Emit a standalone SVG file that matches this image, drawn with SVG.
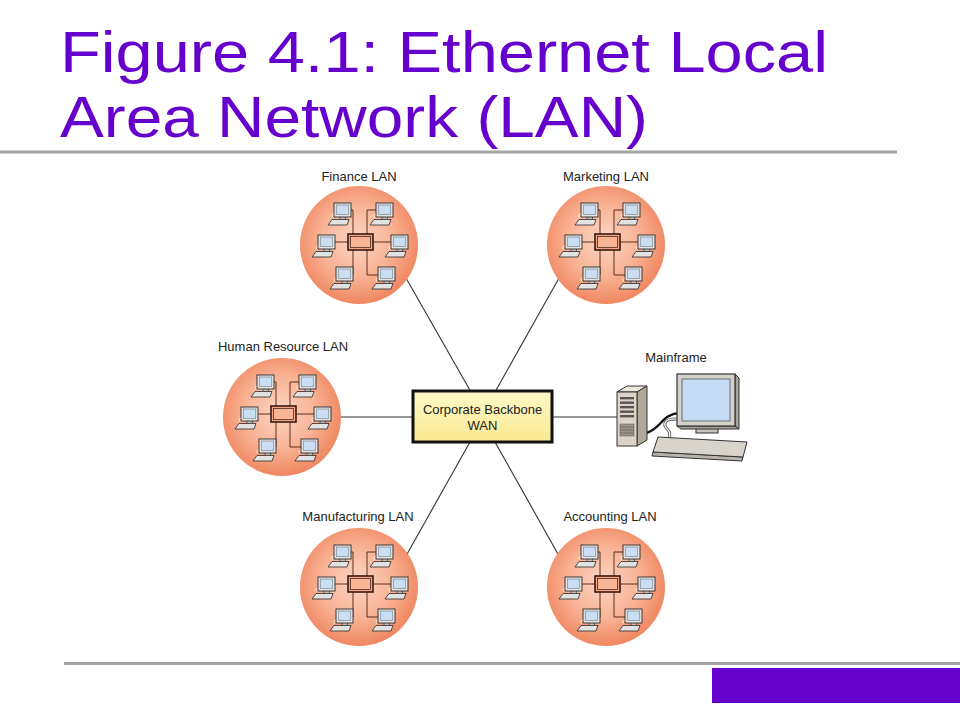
<svg xmlns="http://www.w3.org/2000/svg" xmlns:xlink="http://www.w3.org/1999/xlink" width="960" height="720" viewBox="0 0 960 720">
<style>
.title{font-family:"Liberation Sans",Arial,sans-serif;font-size:57px;fill:#6600CC}
.lbl{font-family:"Liberation Sans",Arial,sans-serif;font-size:13px;fill:#222;text-anchor:middle}
.rule{stroke:#a6a6a6;stroke-width:3}
.conn{stroke:#333;stroke-width:1.1;fill:none}
.wire{stroke:#5a2e1c;stroke-width:1;fill:none}
.edge{stroke:#2a2a2a}
</style>
<defs>
<radialGradient id="lanGrad" cx="48%" cy="46%" r="55%">
<stop offset="0" stop-color="#fcd6c4"/>
<stop offset="0.55" stop-color="#f8b395"/>
<stop offset="1" stop-color="#f0855f"/>
</radialGradient>
<linearGradient id="boxGrad" x1="0" y1="0" x2="0" y2="1">
<stop offset="0" stop-color="#fff8c8"/>
<stop offset="1" stop-color="#f9e990"/>
</linearGradient>
<g id="pc">
<polygon points="-2,16.5 15,16.5 13,22 -6,22" fill="#e2e2e2" class="edge" stroke-width="0.8"/>
<rect x="6" y="13.5" width="5.5" height="3" fill="#bdbdbd" class="edge" stroke-width="0.6"/>
<rect x="0" y="0" width="17" height="14" fill="#e4e4e4" class="edge" stroke-width="0.9"/>
<rect x="2.2" y="2" width="12.6" height="9.5" fill="#c9ddf3" stroke="#666" stroke-width="0.5"/>
<path d="M-0.5,11 q-3,1.5 -0.5,3.5" stroke="#fff" stroke-width="0.8" fill="none"/>
</g>
<g id="lan">
<circle cx="0" cy="0" r="59" fill="url(#lanGrad)"/>
<path class="wire" d="M-25,-3H-11 M14,-3H32 M-6,-11V-35H-8 M8,-11V-35H17 M-6,5V30H-8 M8,5V30H19"/>
<rect x="-11" y="-11" width="25" height="16" fill="#f5a585" stroke="#3a1a10" stroke-width="1.6"/>
<rect x="-8.5" y="-8.5" width="20" height="11" fill="#f7b596" stroke="#3a1a10" stroke-width="0.7"/>
<use xlink:href="#pc" href="#pc" x="-25" y="-42"/>
<use xlink:href="#pc" href="#pc" x="17" y="-42"/>
<use xlink:href="#pc" href="#pc" x="-41" y="-10"/>
<use xlink:href="#pc" href="#pc" x="32" y="-10"/>
<use xlink:href="#pc" href="#pc" x="-23" y="22"/>
<use xlink:href="#pc" href="#pc" x="19" y="22"/>
</g>
</defs>
<rect width="960" height="720" fill="#ffffff"/>
<g id="title">
<text class="title" x="60" y="72" textLength="768" lengthAdjust="spacingAndGlyphs">Figure 4.1: Ethernet Local</text>
<text class="title" x="60" y="137" textLength="588" lengthAdjust="spacingAndGlyphs">Area Network (LAN)</text>
</g>
<g id="decor">
<line class="rule" x1="0" y1="152" x2="897" y2="152"/>
<line class="rule" x1="64" y1="663.5" x2="960" y2="663.5"/>
<rect x="712" y="668" width="248" height="35" fill="#6600CC"/>
</g>
<g id="connectors">
<line class="conn" x1="402" y1="271" x2="471" y2="392"/>
<line class="conn" x1="563" y1="271" x2="495" y2="392"/>
<line class="conn" x1="470" y1="442" x2="402" y2="563"/>
<line class="conn" x1="495" y1="442" x2="563" y2="563"/>
<line class="conn" x1="330" y1="417" x2="413" y2="417"/>
<line class="conn" x1="552" y1="417" x2="618" y2="417"/>
</g>
<g id="finance">
<use xlink:href="#lan" href="#lan" transform="translate(359,245)"/>
<text class="lbl" x="359" y="181">Finance LAN</text>
</g>
<g id="marketing">
<use xlink:href="#lan" href="#lan" transform="translate(606,245)"/>
<text class="lbl" x="606" y="181">Marketing LAN</text>
</g>
<g id="hr">
<use xlink:href="#lan" href="#lan" transform="translate(282,417)"/>
<text class="lbl" x="283" y="351">Human Resource LAN</text>
</g>
<g id="manufacturing">
<use xlink:href="#lan" href="#lan" transform="translate(359,587)"/>
<text class="lbl" x="358" y="521">Manufacturing LAN</text>
</g>
<g id="accounting">
<use xlink:href="#lan" href="#lan" transform="translate(606,587)"/>
<text class="lbl" x="610" y="521">Accounting LAN</text>
</g>
<g id="backbone">
<rect x="413" y="391" width="139" height="51" fill="url(#boxGrad)" stroke="#111" stroke-width="3"/>
<text class="lbl" x="482.5" y="414">Corporate Backbone</text>
<text class="lbl" x="482.5" y="430">WAN</text>
</g>
<g id="mainframe">
<text class="lbl" x="676" y="362">Mainframe</text>
<path d="M646,433 C660,430 662,414 679,413" stroke="#111" stroke-width="2.4" fill="none"/>
<path d="M679,419 C664,418 662,424 668,430 C672,434 668,437 670,441" stroke="#555" stroke-width="3" fill="none"/>
<path d="M679,419 C664,418 662,424 668,430 C672,434 668,437 670,441" stroke="#eee" stroke-width="1.4" fill="none"/>
<polygon points="617,392 637,392 647,386 627,386" fill="#ece6dc" stroke="#333" stroke-width="1"/>
<polygon points="637,392 647,386 647,440 637,446" fill="#b2a898" stroke="#333" stroke-width="1"/>
<rect x="617" y="392" width="20" height="54" fill="#dcd4c8" stroke="#333" stroke-width="1"/>
<g fill="#555">
<rect x="620" y="397" width="14" height="2.4"/>
<rect x="620" y="401.5" width="14" height="2.4"/>
<rect x="620" y="406" width="14" height="2.4"/>
<rect x="620" y="410.5" width="14" height="2.4"/>
<rect x="620" y="415" width="14" height="2.4"/>
</g>
<rect x="620" y="424" width="14" height="12" fill="#9a948c" stroke="#555" stroke-width="0.5"/>
<path d="M620,427H634M620,430H634M620,433H634" stroke="#6a655e" stroke-width="0.8"/>
<rect x="696" y="425" width="22" height="8" fill="#c8c4bc" stroke="#333" stroke-width="1"/>
<polygon points="735,374 739,378 739,429 735,426" fill="#a8a49c" stroke="#333" stroke-width="1"/>
<polygon points="677,426 735,426 739,429 681,429" fill="#a8a49c" stroke="#333" stroke-width="1"/>
<rect x="677" y="374" width="58" height="52" fill="#d6d2ca" stroke="#333" stroke-width="1.2"/>
<rect x="682" y="379" width="48" height="42" fill="#c6dcf4" stroke="#555" stroke-width="0.8"/>
<polygon points="653,452 743,457 742,461 652,456" fill="#b8b4ac" stroke="#333" stroke-width="1"/>
<polygon points="658,437 747,442 743,457 653,452" fill="#d8d4cc" stroke="#333" stroke-width="1"/>
</g>
</svg>
